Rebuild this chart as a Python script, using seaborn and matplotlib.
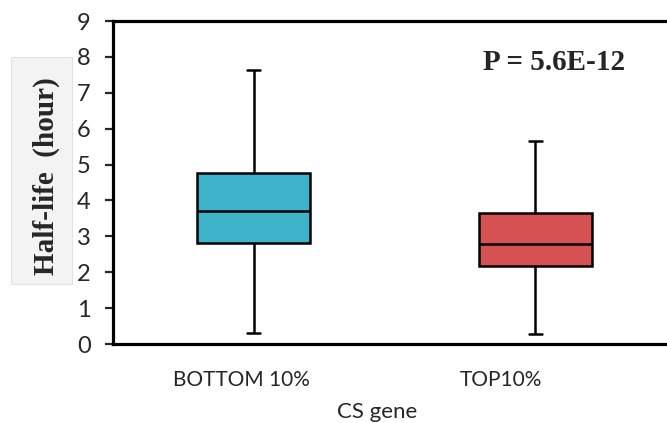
import matplotlib
matplotlib.use("Agg")
import matplotlib.pyplot as plt
from matplotlib.patches import Rectangle
from matplotlib.transforms import ScaledTranslation
import seaborn as sns
import pandas as pd

# box statistics: min, q1, median, q3, max
groups = ["BOTTOM 10%", "TOP10%"]
bottom_stats = [0.31, 2.82, 3.71, 4.77, 7.64]
top_stats = [0.28, 2.17, 2.78, 3.64, 5.66]
box_colors = ["#3fb3c9", "#d65252"]
y_ticks = [0, 1, 2, 3, 4, 5, 6, 7, 8, 9]
p_text = "P = 5.6E-12"

df = pd.DataFrame({
    "group": [groups[0]] * len(bottom_stats) + [groups[1]] * len(top_stats),
    "value": bottom_stats + top_stats,
})

sns.set_style("white")
plt.rcParams["font.family"] = ["Lato", "DejaVu Sans"]

fig = plt.figure(figsize=(6.67, 4.23), dpi=100)
ax = fig.add_axes([113 / 667, 79 / 423, 563 / 667, 323 / 423])

sns.boxplot(data=df, x="group", y="value", hue="group", palette=box_colors,
            width=0.4, linewidth=1.8, linecolor="black", whis=(0, 100),
            capwidths=0.045, legend=False, saturation=1, ax=ax)

ax.set_xlim(-0.5, 1.5)
ax.set_ylim(0, 9)
ax.set_yticks(y_ticks)
ax.tick_params(axis="y", direction="out", length=6, width=1.6, pad=10,
               labelsize=17, left=True)
ax.tick_params(axis="x", length=0, pad=19, labelsize=15)
for side in ["left", "bottom", "top"]:
    ax.spines[side].set_linewidth(2.3)
    ax.spines[side].set_color("black")
ax.spines["right"].set_visible(False)

# category labels sit slightly left of the boxes in the original
shifts = [-0.125, -0.34]
for lab, dx in zip(ax.get_xticklabels(), shifts):
    lab.set_transform(lab.get_transform() + ScaledTranslation(dx, 0, fig.dpi_scale_trans))

ax.set_ylabel("")
ax.set_xlabel("CS gene", fontsize=16)
ax.xaxis.set_label_coords(0.469, -0.18)

ax.text(0.657, 0.870, p_text, transform=ax.transAxes, fontsize=21,
        fontweight="bold", family="Liberation Serif", va="center", ha="left")

# y label pasted on a light panel
fig.patches.append(Rectangle((11 / 667, 1 - 284 / 423), 61 / 667, 227 / 423,
                             transform=fig.transFigure, facecolor="#f3f3f3",
                             edgecolor="#e2e2e2", linewidth=0.8, zorder=0))
fig.text(46 / 667, 1 - 176 / 423, "Half-life  (hour)", rotation=90,
         fontsize=21, fontweight="bold", family="Liberation Serif",
         ha="center", va="center")

fig.savefig("out.png", dpi=100)
